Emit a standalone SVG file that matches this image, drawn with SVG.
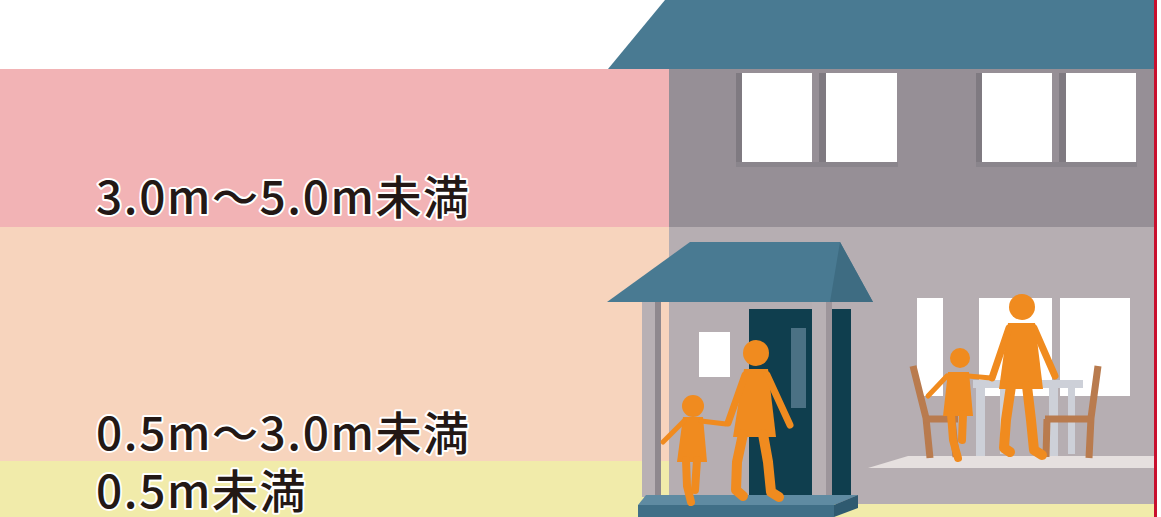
<svg xmlns="http://www.w3.org/2000/svg" width="1161" height="517" viewBox="0 0 1161 517">
  <style>
    .label { font-family: "Noto Sans CJK JP", "Noto Sans", sans-serif; font-size: 46px; font-weight: 500; fill: #231815; stroke: #ffffff; stroke-width: 4px; stroke-linejoin: round; paint-order: stroke; letter-spacing: 1.6px; }
    .roof { fill: #497a92; }
    .roof-side { fill: #3e6c82; }
    .win { fill: #ffffff; }
    .win-shadow { fill: #7f7a81; }
    .person { fill: #f08b1f; }
    .limb { stroke: #f08b1f; stroke-linecap: round; stroke-linejoin: round; fill: none; }
    .chair { stroke: #b97b4e; stroke-width: 7; stroke-linecap: butt; fill: none; }
    .table { fill: #cdd0d8; }
  </style>

  <!-- background -->
  <rect x="0" y="0" width="1161" height="517" fill="#ffffff"/>

  <!-- depth bands -->
  <g id="bands">
    <rect x="0" y="69" width="1156" height="158" fill="#f2b3b5"/>
    <rect x="0" y="227" width="1156" height="234" fill="#f7d4bd"/>
    <rect x="0" y="461" width="1156" height="56" fill="#f1ebaa"/>
  </g>

  <!-- house -->
  <g id="house">
    <!-- walls -->
    <rect x="669" y="69" width="485" height="158" fill="#968f96"/>
    <rect x="669" y="227" width="485" height="277" fill="#b6aeb2"/>
    <!-- main roof -->
    <polygon class="roof" points="608,69 665,0 1154,0 1154,69"/>

    <!-- upper windows -->
    <g id="upper-windows">
      <rect class="win-shadow" x="736" y="73" width="6" height="89"/>
      <rect class="win-shadow" x="819" y="73" width="7" height="89"/>
      <rect class="win-shadow" x="976" y="73" width="6" height="89"/>
      <rect class="win-shadow" x="1059" y="73" width="7" height="89"/>
      <rect x="736" y="162" width="162" height="5" fill="#8a858c"/>
      <rect x="976" y="162" width="161" height="5" fill="#8a858c"/>
      <rect class="win" x="742" y="73" width="70" height="89"/>
      <rect class="win" x="826" y="73" width="71" height="89"/>
      <rect class="win" x="982" y="73" width="70" height="89"/>
      <rect class="win" x="1066" y="73" width="70" height="89"/>
    </g>

    <!-- terrace windows -->
    <g id="terrace-windows">
      <rect class="win" x="917" y="298" width="26" height="98"/>
      <rect class="win" x="979" y="298" width="73" height="98"/>
      <rect class="win" x="1060" y="298" width="70" height="98"/>
    </g>

    <!-- terrace floor -->
    <polygon points="908,456 1154,456 1154,468 868,468" fill="#e6e0df"/>
  </g>

  <!-- porch -->
  <g id="porch">
    <!-- left column -->
    <rect x="642" y="302" width="13" height="195" fill="#b8b0b4"/>
    <rect x="655" y="302" width="6" height="195" fill="#8f888e"/>
    <!-- small window -->
    <rect class="win" x="699" y="332" width="31" height="45"/>
    <!-- door -->
    <rect x="749" y="309" width="63" height="188" fill="#0f3e4e"/>
    <rect x="791" y="328" width="15" height="80" fill="#4b7184"/>
    <!-- right column and side opening -->
    <rect x="812" y="302" width="20" height="195" fill="#b8b0b4"/>
    <rect x="826" y="302" width="6" height="195" fill="#9d959b"/>
    <rect x="832" y="309" width="19" height="188" fill="#0f3e4e"/>
    <!-- porch roof -->
    <polygon class="roof" points="690,242 840,242 873,302 607,302"/>
    <polygon class="roof-side" points="840,242 873,302 830,302"/>
    <!-- step -->
    <polygon points="646,495 858,495 834,505 638,505" fill="#5f8ba2"/>
    <rect x="638" y="505" width="196" height="12" fill="#406f87"/>
    <polygon points="834,505 858,495 858,508 834,517" fill="#2f5a70"/>
  </g>

  <!-- table and chairs on the terrace -->
  <g id="furniture">
    <rect class="table" x="973" y="380" width="110" height="8"/>
    <rect class="table" x="976" y="388" width="9" height="68"/>
    <rect class="table" x="1000" y="388" width="7" height="66"/>
    <rect class="table" x="1049" y="388" width="9" height="68"/>
    <rect class="table" x="1068" y="388" width="7" height="66"/>
    <!-- left chair -->
    <polyline class="chair" points="913,366 926,418 930,458"/>
    <line class="chair" x1="923" y1="419" x2="958" y2="419"/>
    <line class="chair" x1="952" y1="419" x2="956" y2="457"/>
    <!-- right chair -->
    <polyline class="chair" points="1098,366 1091,418 1089,458"/>
    <line class="chair" x1="1045" y1="419" x2="1094" y2="419"/>
    <line class="chair" x1="1047" y1="419" x2="1046" y2="457"/>
  </g>

  <!-- people at the porch -->
  <g id="porch-family">
    <!-- adult -->
    <circle class="person" cx="756" cy="353" r="13"/>
    <polygon class="person" points="744,369 768,369 776,437 733,437"/>
    <path class="limb" stroke-width="7" d="M767,375 L790,425"/>
    <path class="limb" stroke-width="7" d="M745,375 L728,423"/>
    <path class="limb" stroke-width="10" d="M743,434 L737,462 L736,490 L743,496"/>
    <path class="limb" stroke-width="10" d="M763,434 L768,462 L771,492 L779,497"/>
    <!-- child -->
    <circle class="person" cx="693" cy="406" r="11"/>
    <polygon class="person" points="683,417 703,417 707,462 677,462"/>
    <path class="limb" stroke-width="5" d="M701,421 L726,424"/>
    <path class="limb" stroke-width="5" d="M684,421 L663,442"/>
    <path class="limb" stroke-width="8" d="M686,460 L687,486 L691,502"/>
    <path class="limb" stroke-width="8" d="M697,460 L695,490"/>
  </g>

  <!-- people on the terrace -->
  <g id="terrace-family">
    <!-- adult -->
    <circle class="person" cx="1022" cy="307" r="13"/>
    <polygon class="person" points="1008,323 1035,323 1043,389 999,389"/>
    <path class="limb" stroke-width="7" d="M1034,328 L1055,376"/>
    <path class="limb" stroke-width="7" d="M1009,328 L992,378"/>
    <path class="limb" stroke-width="10" d="M1011,386 L1006,420 L1004,448 L1010,452"/>
    <path class="limb" stroke-width="10" d="M1027,386 L1031,420 L1034,450 L1042,455"/>
    <!-- child -->
    <circle class="person" cx="960" cy="358" r="10"/>
    <polygon class="person" points="948,372 969,372 973,416 943,416"/>
    <path class="limb" stroke-width="5" d="M968,376 L991,378"/>
    <path class="limb" stroke-width="5" d="M947,376 L928,396"/>
    <path class="limb" stroke-width="8" d="M951,414 L953,440 L958,458"/>
    <path class="limb" stroke-width="8" d="M963,414 L962,440"/>
  </g>

  <!-- right border line -->
  <rect id="border" x="1154" y="0" width="3" height="517" fill="#c8102e"/>

  <!-- depth labels -->
  <g id="labels">
    <text class="label" x="96" y="214">3.0m～5.0m未満</text>
    <text class="label" x="96" y="450">0.5m～3.0m未満</text>
    <text class="label" x="96" y="508">0.5m未満</text>
  </g>
</svg>
